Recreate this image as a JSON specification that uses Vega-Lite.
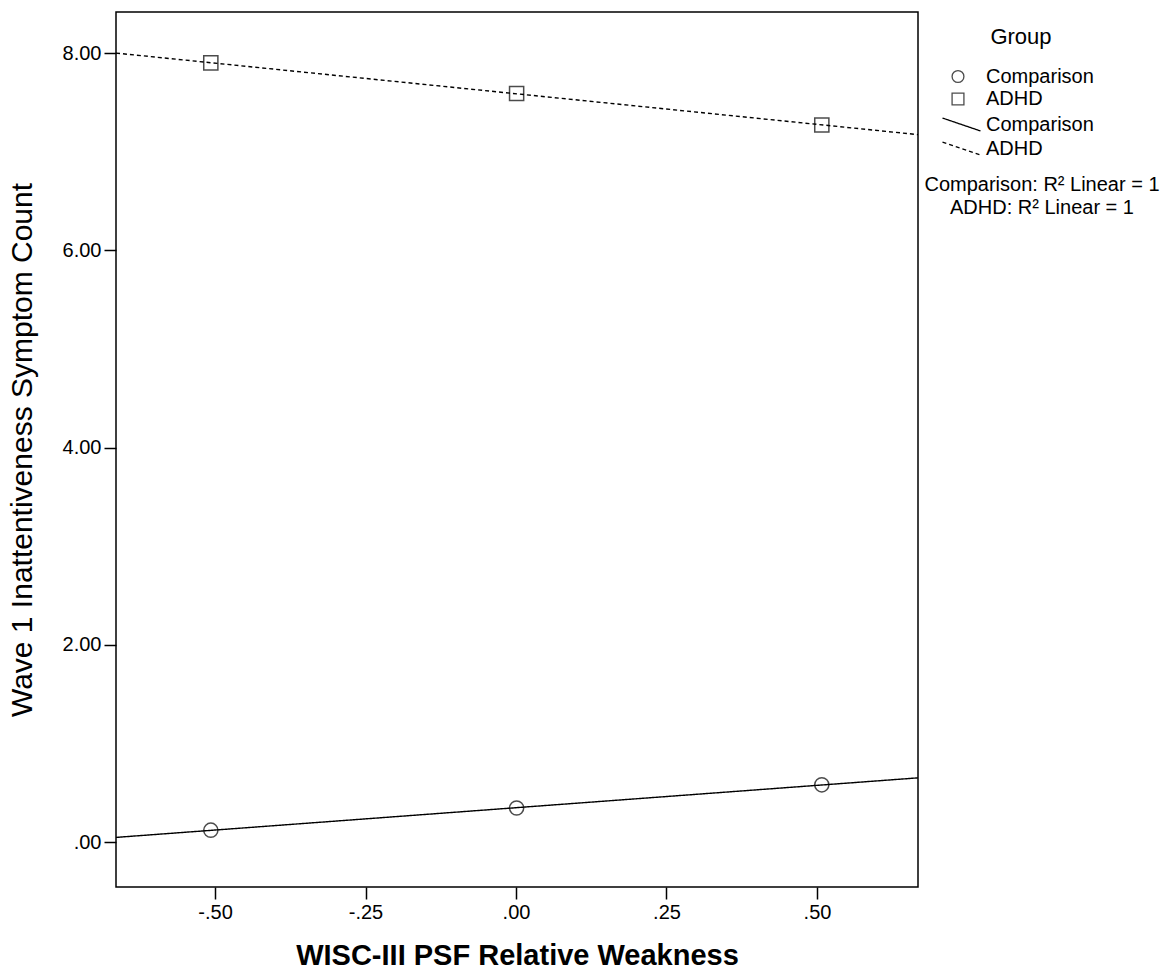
{
  "$schema": "https://vega.github.io/schema/vega-lite/v6.json",
  "width": 802,
  "height": 875,
  "autosize": "none",
  "padding": {"left": 116, "top": 12, "right": 254, "bottom": 85},
  "background": "white",
  "config": {
    "font": "Liberation Sans",
    "view": {"stroke": "black", "strokeWidth": 1.5},
    "axis": {
      "domain": false,
      "grid": false,
      "tickColor": "black",
      "tickSize": 12,
      "tickWidth": 1.5,
      "labelColor": "black",
      "labelFontSize": 20,
      "labelFont": "Liberation Sans",
      "titleColor": "black",
      "titleFont": "Liberation Sans"
    },
    "legend": {
      "labelFont": "Liberation Sans",
      "labelFontSize": 20,
      "labelColor": "black",
      "labelLimit": 400,
      "titleFont": "Liberation Sans",
      "titleFontSize": 22,
      "titleFontWeight": "normal",
      "titleColor": "black",
      "padding": 0
    }
  },
  "data": {
    "values": [
      {"group": "Comparison", "fit": "Comparison: R² Linear = 1", "x": -0.507, "y": 0.12},
      {"group": "Comparison", "fit": "Comparison: R² Linear = 1", "x": 0.001, "y": 0.345},
      {"group": "Comparison", "fit": "Comparison: R² Linear = 1", "x": 0.508, "y": 0.58},
      {"group": "ADHD", "fit": "ADHD: R² Linear = 1", "x": -0.507, "y": 7.9},
      {"group": "ADHD", "fit": "ADHD: R² Linear = 1", "x": 0.001, "y": 7.59},
      {"group": "ADHD", "fit": "ADHD: R² Linear = 1", "x": 0.508, "y": 7.27}
    ]
  },
  "layer": [
    {
      "transform": [
        {"regression": "y", "on": "x", "groupby": ["group", "fit"], "extent": [-0.6645, 0.6678]}
      ],
      "mark": {"type": "line", "strokeWidth": 1.4},
      "encoding": {
        "x": {
          "field": "x", "type": "quantitative",
          "scale": {"domain": [-0.6645, 0.6678], "nice": false, "zero": false},
          "axis": {
            "title": "WISC-III PSF Relative Weakness",
            "titleFontSize": 29,
            "titleFontWeight": "bold",
            "titlePadding": 19,
            "labelPadding": 3,
            "values": [-0.5, -0.25, 0, 0.25, 0.5],
            "labelExpr": "replace(replace(format(datum.value,'.2f'),'0.','.'),'\u2212','-')"
          }
        },
        "y": {
          "field": "y", "type": "quantitative",
          "scale": {"domain": [-0.456, 8.416], "nice": false, "zero": false},
          "axis": {
            "title": "Wave 1 Inattentiveness Symptom Count",
            "titleFontSize": 30,
            "titleFontWeight": "normal",
            "titlePadding": 25,
            "labelPadding": 3,
            "values": [0, 2, 4, 6, 8],
            "labelExpr": "replace(format(datum.value,'.2f'),'0.','.')"
          }
        },
        "strokeDash": {
          "field": "group", "type": "nominal",
          "sort": ["Comparison", "ADHD"],
          "scale": {"range": [[1, 0], [4, 3]]},
          "legend": {
            "title": null,
            "orient": "none",
            "legendX": 835,
            "legendY": 102,
            "symbolType": "M-2,-0.68L2,0.68",
            "symbolSize": 361,
            "symbolStrokeColor": "black",
            "symbolStrokeWidth": 1.3,
            "labelOffset": 14,
            "rowPadding": 3
          }
        },
        "color": {
          "field": "fit", "type": "nominal",
          "sort": ["Comparison: R² Linear = 1", "ADHD: R² Linear = 1"],
          "scale": {"range": ["black", "black"]},
          "legend": {
            "title": null,
            "orient": "none",
            "legendX": 896,
            "legendY": 163,
            "symbolOpacity": 0,
            "symbolSize": 0,
            "labelAlign": "center",
            "labelOffset": 10,
            "rowPadding": 3
          }
        }
      }
    },
    {
      "mark": {"type": "point", "filled": false, "color": "black", "strokeWidth": 1.5, "size": 200},
      "encoding": {
        "x": {"field": "x", "type": "quantitative"},
        "y": {"field": "y", "type": "quantitative"},
        "shape": {
          "field": "group", "type": "nominal",
          "scale": {"domain": ["Comparison", "ADHD"], "range": ["circle", "square"]},
          "legend": {
            "title": "Group",
            "orient": "none",
            "legendX": 832,
            "legendY": 14.5,
            "titleAnchor": "middle",
            "titlePadding": 18,
            "symbolSize": 140,
            "symbolFillColor": "transparent",
            "symbolStrokeColor": "black",
            "symbolStrokeWidth": 1.3,
            "labelOffset": 18,
            "rowPadding": 2.5
          }
        }
      }
    }
  ]
}
